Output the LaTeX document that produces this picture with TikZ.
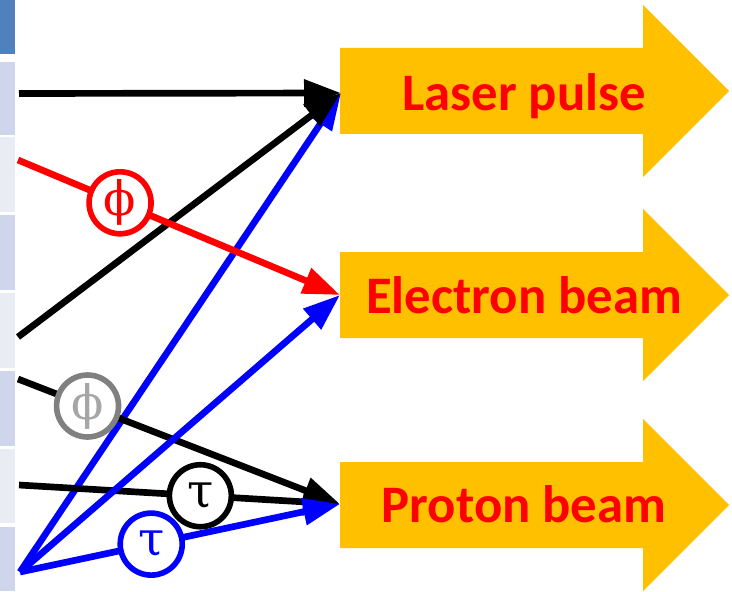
\documentclass[tikz,border=0pt]{standalone}
\usepackage{fontspec}
\setmainfont{Carlito}
\newfontfamily\greekfont{DejaVu Serif}
\usetikzlibrary{arrows.meta}
\definecolor{beamorange}{HTML}{FFC000}
\definecolor{headblue}{HTML}{4F81BD}
\definecolor{rowdark}{HTML}{CFD5EA}
\definecolor{rowlight}{HTML}{E9EBF5}
\definecolor{ringgrey}{HTML}{808080}
\definecolor{glyphgrey}{HTML}{A6A6A6}

\begin{document}
\begin{tikzpicture}[
      x=0.02cm, y=-0.02cm,
      beamshape/.style={fill=beamorange},
      beamtext/.style={anchor=base, text=red,
        font=\bfseries\fontsize{30}{36}\selectfont},
      conn/.style={line width=3.8pt, -{Triangle[length=0.74cm, width=0.52cm]}},
      ring/.style={circle, draw, fill=white, line width=3.2pt,
        minimum size=1.24cm, inner sep=0pt,
        font=\greekfont\fontsize{27}{27}\selectfont}
    ]
    \useasboundingbox (0,0) rectangle (732,591);

    % ===== Left strip: table rows =====
    \fill[headblue] (0,0) rectangle (15,54);
    \fill[rowdark]  (0,62) rectangle (15,135);
    \fill[rowlight] (0,137) rectangle (15,212);
    \fill[rowdark]  (0,215) rectangle (15,290);
    \fill[rowlight] (0,293) rectangle (15,368);
    \fill[rowdark]  (0,371) rectangle (15,446);
    \fill[rowlight] (0,449) rectangle (15,523);
    \fill[rowdark]  (0,527) rectangle (15,591);

    % ===== Right: the three block arrows =====
    \fill[beamshape] (340,48) -- (643,48) -- (643,5) -- (729,91)
      -- (643,177) -- (643,134) -- (340,134) -- cycle;
    \fill[beamshape] (340,252) -- (643,252) -- (643,209) -- (729,295)
      -- (643,381) -- (643,338) -- (340,338) -- cycle;
    \fill[beamshape] (340,462) -- (643,462) -- (643,419) -- (729,505)
      -- (643,591) -- (643,548) -- (340,548) -- cycle;
    \node[beamtext] (laser) at (524,111) {Laser pulse};
    \node[beamtext] (electron) at (524,313) {Electron beam};
    \node[beamtext] (proton) at (524,522) {Proton beam};

    % ===== Ends of the connectors =====
    \coordinate (lasertip) at (341,93);
    \coordinate (electrontip) at (340,295);
    \coordinate (protontip) at (340,504);
    \coordinate (row1) at (19,93.5);
    \coordinate (row2) at (18,160);
    \coordinate (row3) at (18,337);
    \coordinate (row4) at (18,379);
    \coordinate (row5) at (19,485);
    \coordinate (apex) at (20,572);

    % ===== Connectors =====
    \draw[conn, blue] (apex) -- (lasertip);
    \draw[conn] (row1) -- (lasertip);
    \draw[conn] (row3) -- (lasertip);
    \draw[conn, red] (row2) -- node[ring, pos=0.317] (phired) {ϕ} (electrontip);
    \draw[conn] (row4) -- node[ring, draw=ringgrey, text=glyphgrey, pos=0.216]
      (phigrey) {ϕ} (protontip);
    \draw[conn] (row5) -- node[ring, pos=0.565] (taublack) {τ} (protontip);
    \draw[conn, blue] (apex) -- (electrontip);
    \draw[conn, blue] (apex) -- node[ring, pos=0.41] (taublue) {τ} (protontip);
  \end{tikzpicture}
\end{document}
